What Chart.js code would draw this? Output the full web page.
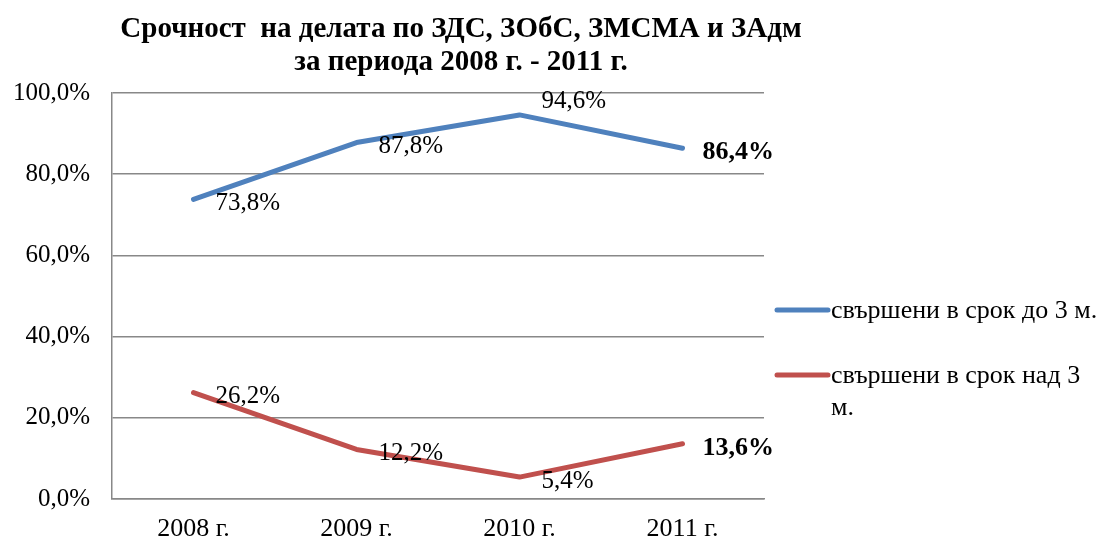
<!DOCTYPE html>
<html>
<head>
<meta charset="utf-8">
<script src="https://cdn.jsdelivr.net/npm/chart.js@4/dist/chart.umd.min.js"></script>
<style>
  html, body { margin: 0; padding: 0; background: #fff; }
  #wrap { width: 1107px; height: 541px; position: relative; }
</style>
</head>
<body>
<div id="wrap"><canvas id="trendChart" width="1107" height="541"></canvas></div>
<script>
// chart data
const years = ['2008 г.', '2009 г.', '2010 г.', '2011 г.'];
const upTo3 = [73.8, 87.8, 94.6, 86.4];
const over3 = [26.2, 12.2, 5.4, 13.6];
const seriesNames = ['свършени в срок до 3 м.', 'свършени в срок над 3 м.'];
const titleLines = ['Срочност  на делата по ЗДС, ЗОбС, ЗМСМА и ЗАдм', 'за периода 2008 г. - 2011 г.'];

const blue = '#4F81BD';
const red = '#C0504D';
const serif = '"Liberation Serif", "Times New Roman", serif';

function pct(v) {
    return v.toFixed(1).replace('.', ',') + '%';
}

// title, data labels and legend are drawn by hand
const extras = {
    id: 'extras',
    afterDatasetsDraw(chart) {
        const ctx = chart.ctx;
        ctx.save();

        // title
        ctx.fillStyle = '#000';
        ctx.font = 'bold 29px ' + serif;
        ctx.textAlign = 'center';
        ctx.textBaseline = 'middle';
        ctx.fillText(titleLines[0], 461, 30);
        ctx.fillText(titleLines[1], 461, 63);

        // data labels, last point in bold
        ctx.textAlign = 'left';
        chart.data.datasets.forEach((ds, di) => {
            const meta = chart.getDatasetMeta(di);
            meta.data.forEach((pt, i) => {
                const last = i === ds.data.length - 1;
                ctx.font = last ? 'bold 26px ' + serif : '25px ' + serif;
                let dy = 4;
                // peak label sits above the line
                if (di === 0 && i === 2) dy = -13;
                ctx.fillText(pct(ds.data[i]), pt.x + (last ? 20 : 22), pt.y + dy);
            });
        });

        // legend
        ctx.font = '26px ' + serif;
        ctx.lineCap = 'round';
        ctx.lineWidth = 5;
        const items = [
            { color: blue, y: 310, lines: [seriesNames[0]] },
            { color: red, y: 375, lines: ['свършени в срок над 3', 'м.'] }
        ];
        items.forEach(it => {
            ctx.strokeStyle = it.color;
            ctx.beginPath();
            ctx.moveTo(777, it.y);
            ctx.lineTo(828, it.y);
            ctx.stroke();
            it.lines.forEach((t, k) => {
                ctx.fillText(t, 831, it.y + 1 + k * 32);
            });
        });

        ctx.restore();
    }
};

const ctx = document.getElementById('trendChart').getContext('2d');
new Chart(ctx, {
    type: 'line',
    data: {
        labels: years,
        datasets: [
            {
                label: seriesNames[0],
                data: upTo3,
                borderColor: blue,
                borderWidth: 5,
                pointRadius: 0,
                tension: 0,
                borderCapStyle: 'round',
                borderJoinStyle: 'round'
            },
            {
                label: seriesNames[1],
                data: over3,
                borderColor: red,
                borderWidth: 5,
                pointRadius: 0,
                tension: 0,
                borderCapStyle: 'round',
                borderJoinStyle: 'round'
            }
        ]
    },
    options: {
        responsive: false,
        animation: false,
        layout: { padding: { top: 93, left: 10, right: 343, bottom: 0 } },
        plugins: {
            legend: { display: false },
            title: { display: false },
            tooltip: { enabled: false }
        },
        scales: {
            x: {
                offset: true,
                grid: { display: false },
                border: { color: '#888', width: 1.5 },
                ticks: {
                    color: '#000',
                    font: { family: serif, size: 26 },
                    padding: 7
                },
                afterFit: scale => { scale.height = 42; }
            },
            y: {
                min: 0,
                max: 100,
                grid: { color: '#888', lineWidth: 1.5, drawTicks: false },
                border: { color: '#888', width: 1.5 },
                ticks: {
                    stepSize: 20,
                    color: '#000',
                    font: { family: serif, size: 25 },
                    padding: 22,
                    callback: v => pct(v)
                },
                afterFit: scale => { scale.width = 102; }
            }
        }
    },
    plugins: [extras]
});
</script>
</body>
</html>
